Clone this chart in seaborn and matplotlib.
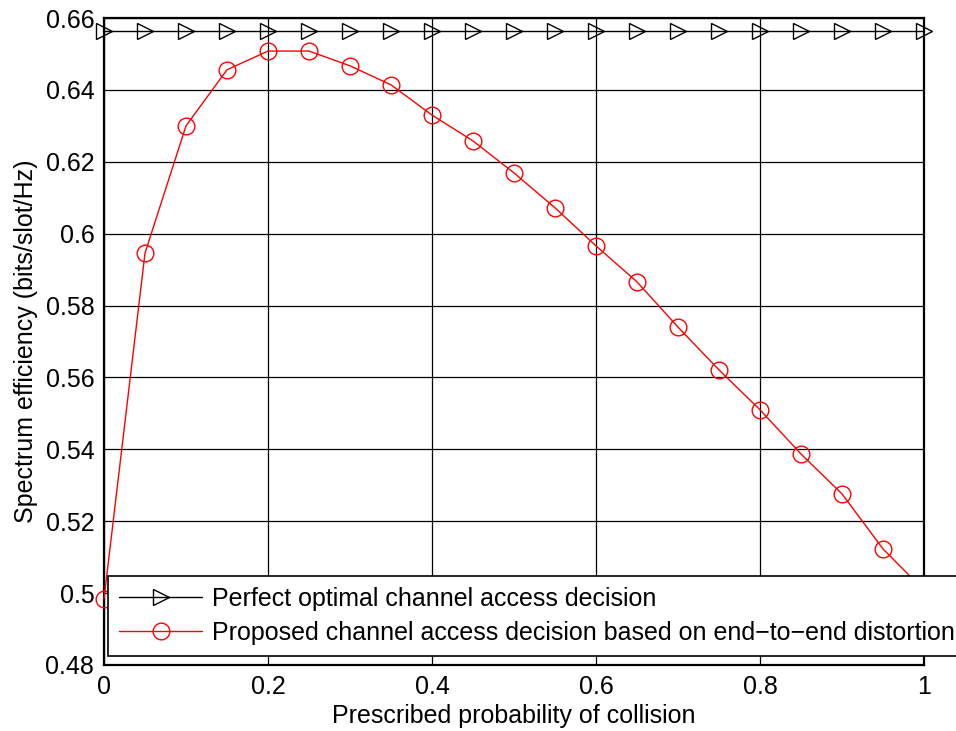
import matplotlib
matplotlib.use("Agg")
import matplotlib.pyplot as plt
import seaborn as sns
import pandas as pd
from matplotlib.ticker import FuncFormatter

x_vals = [0, 0.05, 0.1, 0.15, 0.2, 0.25, 0.3, 0.35, 0.4, 0.45, 0.5,
          0.55, 0.6, 0.65, 0.7, 0.75, 0.8, 0.85, 0.9, 0.95, 1.0]
perfect = [0.6564] * len(x_vals)
proposed = [0.4984, 0.5946, 0.6300, 0.6456, 0.6508, 0.6508, 0.6467, 0.6414,
            0.6330, 0.6258, 0.6169, 0.6072, 0.5966, 0.5866, 0.5740, 0.5621,
            0.5510, 0.5387, 0.5276, 0.5123, 0.5008]
label_perfect = "Perfect optimal channel access decision"
label_proposed = "Proposed channel access decision based on end\u2212to\u2212end distortion"
x_ticks = [0, 0.2, 0.4, 0.6, 0.8, 1]
y_ticks = [0.48, 0.5, 0.52, 0.54, 0.56, 0.58, 0.6, 0.62, 0.64, 0.66]

sns.set_style("white")
plt.rcParams["font.family"] = ["Liberation Sans", "DejaVu Sans"]
plt.rcParams["axes.unicode_minus"] = True
plt.rcParams["text.color"] = "black"
plt.rcParams["axes.labelcolor"] = "black"

FS = 18

df = pd.DataFrame({"x": x_vals, "perfect": perfect, "proposed": proposed})

fig = plt.figure(figsize=(9.56, 7.31), dpi=100)
ax = fig.add_axes([104/956, 1-665/731, 820/956, 647/731])

sns.lineplot(data=df, x="x", y="perfect", ax=ax, color="black", lw=1,
             marker=">", markersize=12, markerfacecolor="none",
             markeredgecolor="black", markeredgewidth=1,
             label=label_perfect, clip_on=False, zorder=3)
sns.lineplot(data=df, x="x", y="proposed", ax=ax, color="red", lw=1,
             marker="o", markersize=12, markerfacecolor="none",
             markeredgecolor="red", markeredgewidth=1,
             label=label_proposed, clip_on=False, zorder=3)

ax.set_xlim(0, 1)
ax.set_ylim(0.48, 0.66)
ax.set_xticks(x_ticks)
ax.set_yticks(y_ticks)
fmt = FuncFormatter(lambda v, p: f"{v:g}")
ax.xaxis.set_major_formatter(fmt)
ax.yaxis.set_major_formatter(fmt)
ax.grid(True, color="black", lw=0.9, ls="-")
ax.set_axisbelow(True)
for s in ax.spines.values():
    s.set_color("black")
    s.set_linewidth(1.6)
ax.tick_params(direction="in", length=0, labelsize=FS, colors="black", pad=7)
ax.set_xlabel("Prescribed probability of collision", fontsize=FS, labelpad=4)
ax.set_ylabel("Spectrum efficiency (bits/slot/Hz)", fontsize=FS, labelpad=5)

leg = ax.legend(loc="lower left", bbox_to_anchor=(4/820, 9/647), fontsize=FS,
                frameon=True, fancybox=False, edgecolor="black", framealpha=1,
                handlelength=3.3, borderaxespad=0, borderpad=0.45,
                labelspacing=0.4, handletextpad=0.4)
leg.get_frame().set_linewidth(1.2)
leg.set_zorder(5)

fig.savefig("out.png", dpi=100)
